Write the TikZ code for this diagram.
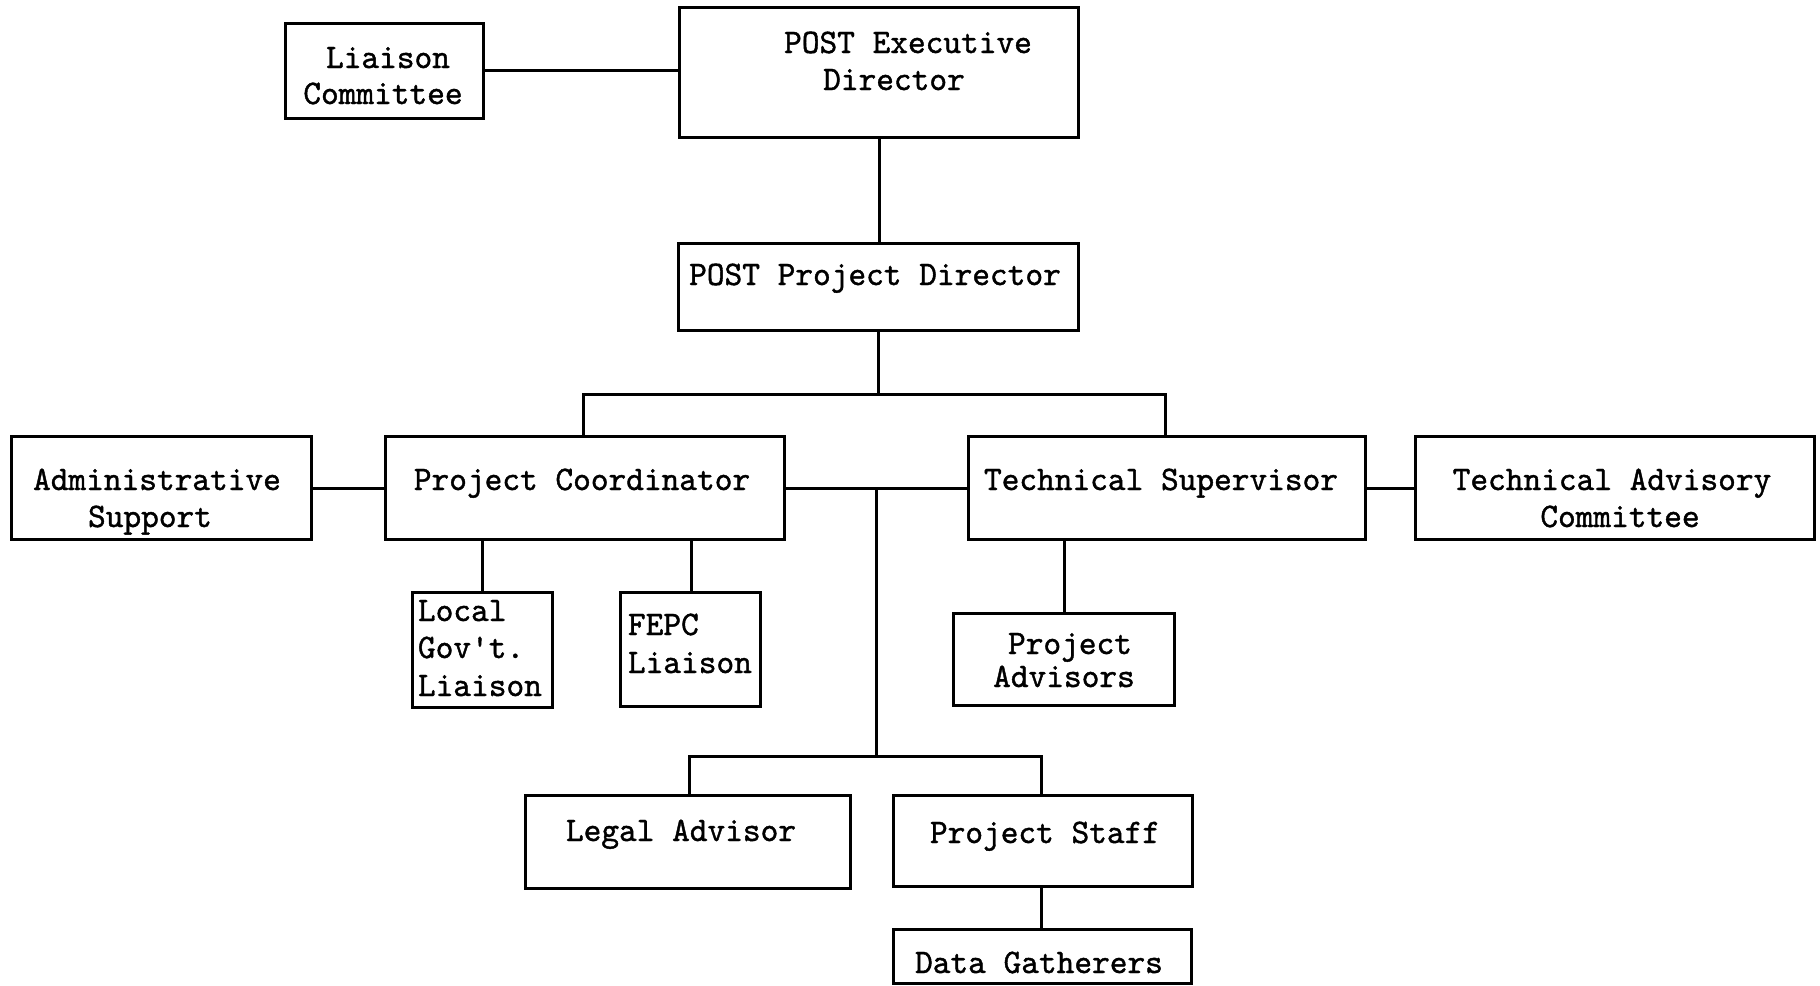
\documentclass[tikz,border=0pt]{standalone}
\usepackage{fontspec}
\newfontfamily\typewriter{lmmono10-regular.otf}[FakeStretch=0.98,FakeBold=1.2]
\newcommand\bx[5]{\node[box,minimum width={(#3)-(#2)},minimum height={(#5)-(#4)}] (#1) at ({((#2)+(#3))/2},{((#4)+(#5))/2}) {};}
\begin{document}
\begin{tikzpicture}[x=1pt,y=-1pt,
  box/.style={draw=black,line width=3pt,inner sep=0pt,outer sep=0pt,rectangle},
  conn/.style={draw=black,line width=3pt},
  txt/.style={inner sep=0pt,outer sep=0pt,text depth=0pt,font=\typewriter\fontsize{34.4}{42}\selectfont},
  tc/.style={txt,anchor=base},
  tl/.style={txt,anchor=base west}]
\useasboundingbox[fill=white] (0,0) rectangle (1820,985);
% boxes
\bx{lc}{285}{483}{23}{118}
\bx{ed}{679}{1078}{7}{137}
\bx{pd}{678}{1078}{243}{330}
\bx{as}{11}{311}{436}{539}
\bx{pc}{385}{784}{436}{539}
\bx{ts}{968}{1365}{436}{539}
\bx{tac}{1415}{1814}{436}{539}
\bx{lg}{412}{552}{592}{707}
\bx{fe}{620}{760}{592}{706}
\bx{pa}{953}{1174}{613}{705}
\bx{la}{525}{850}{795}{888}
\bx{ps}{893}{1192}{795}{886}
\bx{dg}{893}{1191}{929}{983}
% junction coordinates
\coordinate (busL) at (583,394);
\coordinate (busR) at (1165,394);
\coordinate (j1) at (876,488);
\coordinate (busL2) at (689,756);
\coordinate (busR2) at (1041,756);
% connectors
\draw[conn] (lc.east |- 0,70) -- (ed.west |- 0,70);
\draw[conn] (ed.south -| 879,0) -- (pd.north -| 879,0);
\draw[conn] (pd.south -| 878,0) -- (busL -| 878,0);
\draw[conn] (pc.north -| busL) -- (busL) -- (busR) -- (ts.north -| busR);
\draw[conn] (as.east |- j1) -- (pc.west |- j1);
\draw[conn] (pc.east |- j1) -- (ts.west |- j1);
\draw[conn] (ts.east |- j1) -- (tac.west |- j1);
\draw[conn] (j1) -- (j1 |- busL2);
\draw[conn] (la.north -| busL2) -- (busL2) -- (busR2) -- (ps.north -| busR2);
\draw[conn] (ps.south -| busR2) -- (dg.north -| busR2);
\draw[conn] (pc.south -| 482,0) -- (lg.north -| 482,0);
\draw[conn] (pc.south -| 691,0) -- (fe.north -| 691,0);
\draw[conn] (ts.south -| 1064,0) -- (pa.north -| 1064,0);
% texts
\node[tc] (t1) at (388,68) {Liaison};
\node[tc] (t2) at (383,104) {Committee};
\node[tc] (t3) at (908,53) {POST Executive};
\node[tc] (t4) at (894,90) {Director};
\node[tc] (t5) at (875,285) {POST Project Director};
\node[tc] (t6) at (157,490) {Administrative};
\node[tc] (t7) at (150,527) {Support};
\node[tc] (t8) at (582,490) {Project Coordinator};
\node[tc] (t9) at (1161,490) {Technical Supervisor};
\node[tc] (t10) at (1612,490) {Technical Advisory};
\node[tc] (t11) at (1620,527) {Committee};
\node[tl] (t12) at (418,621) {Local};
\node[tl] (t13) at (418,658) {Gov't.};
\node[tl] (t14) at (418,696) {Liaison};
\node[tl] (t15) at (628,635) {FEPC};
\node[tl] (t16) at (628,673) {Liaison};
\node[tc] (t17) at (1070,654) {Project};
\node[tc] (t18) at (1064,687) {Advisors};
\node[tc] (t19) at (681,841) {Legal Advisor};
\node[tc] (t20) at (1045,843) {Project Staff};
\node[tc] (t21) at (1039,973) {Data Gatherers};
\end{tikzpicture}
\end{document}
